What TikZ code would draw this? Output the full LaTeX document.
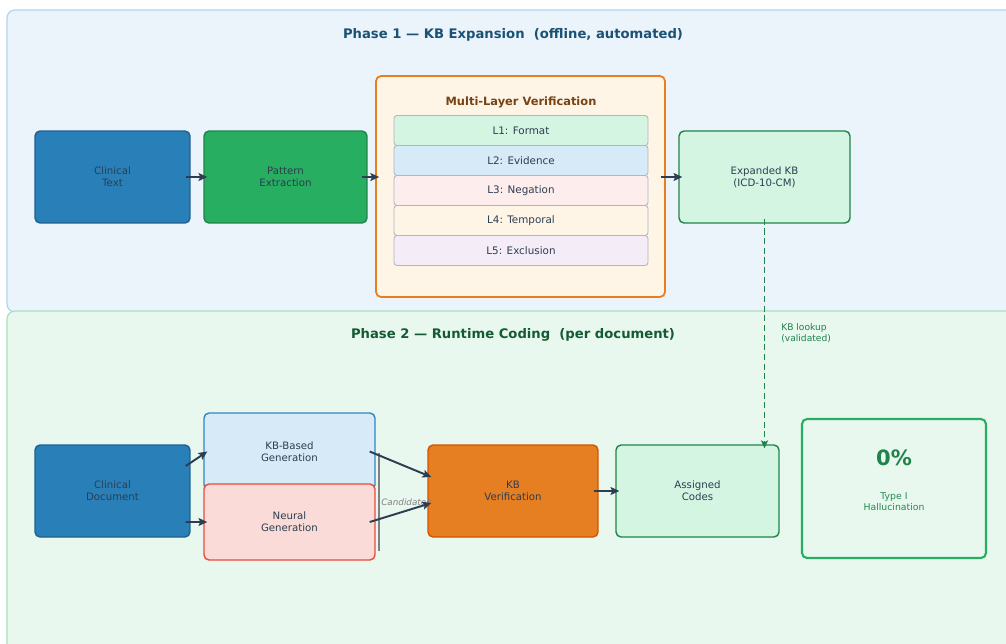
\documentclass[tikz,border=0pt]{standalone}
\usepackage{fontspec}
\setmainfont{DejaVu Sans}
\usepackage{tikz}
\usetikzlibrary{arrows.meta,positioning,calc}
\usepackage{xcolor}

\definecolor{txtdark}{HTML}{2C3E50}
\definecolor{ponefill}{HTML}{EBF3FB}
\definecolor{poneline}{HTML}{AED6F1}
\definecolor{ptwofill}{HTML}{E9F8EF}
\definecolor{ptwoline}{HTML}{A9DFBF}
\definecolor{titleblue}{HTML}{1A5276}
\definecolor{titlegreen}{HTML}{145A32}
\definecolor{darkgreen}{HTML}{1E8449}
\definecolor{midgreen}{HTML}{27AE60}
\definecolor{mintfill}{HTML}{D5F5E3}
\definecolor{skyfill}{HTML}{D6EAF8}
\definecolor{rosefill}{HTML}{FDEDEC}
\definecolor{creamfill}{HTML}{FEF5E7}
\definecolor{lilacfill}{HTML}{F4ECF7}
\definecolor{layergray}{HTML}{AEB6BF}
\definecolor{brownish}{HTML}{784212}
\definecolor{docblue}{HTML}{2980B9}
\definecolor{docline}{HTML}{1F618D}
\definecolor{genline}{HTML}{2E86C1}
\definecolor{neurfill}{HTML}{FADBD8}
\definecolor{neurline}{HTML}{E74C3C}
\definecolor{orangefill}{HTML}{E67E22}
\definecolor{orangeline}{HTML}{D35400}

\begin{document}
\begin{tikzpicture}[
    x=0.02cm, y=-0.02cm,
    box/.style={rectangle, draw, rounded corners=0.1cm, line width=0.8pt, text=txtdark, align=center, inner sep=0pt, font=\fontsize{5.8}{6.8}\selectfont},
    layer/.style={rectangle, draw=layergray, rounded corners=0.06cm, line width=0.5pt, outer sep=0pt, minimum width=5.08cm, minimum height=0.6cm, inner sep=0pt, text=txtdark, font=\fontsize{5.9}{7}\selectfont},
    panel/.style={rounded corners=0.16cm, line width=0.7pt},
    flow/.style={-{Stealth[length=5pt,width=4.5pt,inset=1pt]}, line width=1.1pt, draw=txtdark},
    heading/.style={font=\bfseries\fontsize{7.5}{9}\selectfont},
    node distance=0pt
]
    \useasboundingbox (0,0) rectangle (1006,643);
    \clip (0,0) rectangle (1006,643);

    % phase panels
    \draw[panel, fill=ponefill, draw=poneline] (7,10) rectangle (1020,312);
    \draw[panel, fill=ptwofill, draw=ptwoline] (7,311) rectangle (1020,660);
    \node[heading, text=titleblue] (phaseone) at (513,35) {Phase 1 --- KB Expansion\ \ (offline, automated)};
    \node[heading, text=titlegreen] (phasetwo) at (513,335) {Phase 2 --- Runtime Coding\ \ (per document)};

    % phase 1
    \node[box, fill=docblue, draw=docline, minimum width=3.1cm, minimum height=1.84cm] (ct) at (112.5,177) {Clinical\\Text};
    \node[box, fill=midgreen, draw=darkgreen, minimum width=3.26cm, minimum height=1.84cm] (pe) at (285.5,177) {Pattern\\Extraction};
    \node[box, fill=creamfill, draw=orangefill, line width=1pt, minimum width=5.78cm, minimum height=4.42cm] (mlv) at (520.5,186.5) {};
    \node[font=\bfseries\fontsize{6.5}{8}\selectfont, text=brownish] (mlvtitle) at (521,102) {Multi-Layer Verification};
    \node[layer, fill=mintfill] (lone) at (521,130.5) {L1: Format};
    \node[layer, fill=skyfill, below=of lone] (ltwo) {L2: Evidence};
    \node[layer, fill=rosefill, below=of ltwo] (lthree) {L3: Negation};
    \node[layer, fill=creamfill, below=of lthree] (lfour) {L4: Temporal};
    \node[layer, fill=lilacfill, below=of lfour] (lfive) {L5: Exclusion};
    \node[box, fill=mintfill, draw=darkgreen, minimum width=3.42cm, minimum height=1.84cm] (exp) at (764.5,177) {Expanded KB\\(ICD-10-CM)};

    \draw[flow] ([xshift=-0.1cm]ct.east) -- ([xshift=0.08cm]pe.west);
    \draw[flow] ([xshift=-0.12cm]pe.east) -- ($(pe.east -| mlv.west)+(4,0)$);
    \draw[flow] ($(exp.west -| mlv.east)+(-5,0)$) -- ([xshift=0.08cm]exp.west);

    % phase 2
    \node[box, fill=docblue, draw=docline, minimum width=3.1cm, minimum height=1.84cm] (cd) at (112.5,491) {Clinical\\Document};
    \node[box, fill=skyfill, draw=genline, minimum width=3.42cm, minimum height=1.54cm] (kbg) at (289.5,451.5) {KB-Based\\Generation};
    \node[box, fill=neurfill, draw=neurline, minimum width=3.42cm, minimum height=1.52cm] (ng) at (289.5,522) {Neural\\Generation};
    \node[box, fill=orangefill, draw=orangeline, minimum width=3.4cm, minimum height=1.84cm] (kv) at (513,491) {KB\\Verification};
    \node[box, fill=mintfill, draw=darkgreen, minimum width=3.26cm, minimum height=1.84cm] (ac) at (697.5,491) {Assigned\\Codes};
    \node[box, fill=ptwofill, draw=midgreen, line width=1.2pt, minimum width=3.68cm, minimum height=2.78cm] (res) at (894,488.5) {};
    \node[font=\bfseries\fontsize{12}{14}\selectfont, text=darkgreen] (pct) at (894,458) {0\%};
    \node[align=center, font=\fontsize{5.3}{6.4}\selectfont, text=midgreen!80!black] (halluc) at (894,502) {Type I\\Hallucination};

    \coordinate (candtop) at (379,453);
    \coordinate (candbot) at (379,551);
    \draw[gray, line width=0.6pt] (candtop) -- (candbot);
    \node[anchor=west, inner sep=0pt, font=\itshape\fontsize{5}{6}\selectfont, text=gray] (cand) at (381,502) {Candidates};

    \draw[flow] ([xshift=-0.1cm,yshift=0.5cm]cd.east) -- ([xshift=0.08cm]kbg.west);
    \draw[flow] ([xshift=-0.1cm,yshift=-0.62cm]cd.east) -- ([xshift=0.08cm]ng.west);
    \draw[flow] ([xshift=-0.12cm]kbg.east) -- ([xshift=0.08cm,yshift=0.28cm]kv.west);
    \draw[flow] ([xshift=-0.12cm]ng.east) -- ([xshift=0.08cm,yshift=-0.24cm]kv.west);
    \draw[flow] ([xshift=-0.1cm]kv.east) -- ([xshift=0.08cm]ac.west);

    % lookup from the KB
    \draw[darkgreen, dash pattern=on 3.5pt off 2pt, line width=0.9pt, -{Stealth[length=4.5pt,width=4pt,inset=1pt]}] ([yshift=0.1cm]exp.south) -- ([yshift=-0.08cm]exp.south |- ac.north)
        node[midway, right, xshift=0.32cm, inner sep=0pt, align=left, font=\fontsize{5.2}{6.2}\selectfont, text=darkgreen] {KB lookup\\(validated)};
\end{tikzpicture}
\end{document}
